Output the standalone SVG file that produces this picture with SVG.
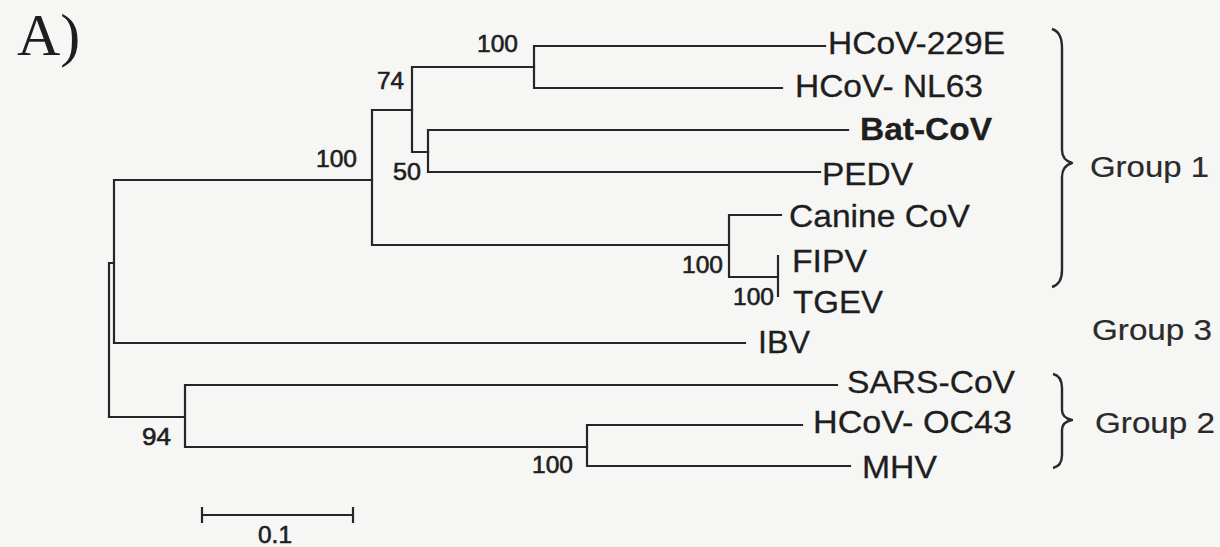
<svg xmlns="http://www.w3.org/2000/svg" width="1220" height="547" viewBox="0 0 1220 547">
<style>
.br{fill:none;stroke:#262626;stroke-width:2.2;stroke-linecap:square}
.tip{font-family:"Liberation Sans",Arial,sans-serif;font-size:32px;fill:#1e1e1e;stroke:#1e1e1e;stroke-width:0.3}
.grp{font-family:"Liberation Sans",Arial,sans-serif;font-size:30px;fill:#2a2a2a;stroke:#2a2a2a;stroke-width:0.2}
.bs{font-family:"Liberation Sans",Arial,sans-serif;font-size:24px;fill:#1e1e1e;stroke:#1e1e1e;stroke-width:0.6}
.brace{fill:none;stroke:#2a2a2a;stroke-width:2.4;stroke-linejoin:round}
</style>
<rect width="1220" height="547" fill="#f6f6f5"/>
<text x="17" y="55" font-family="'Liberation Serif','Times New Roman',serif" font-size="60" fill="#1e1e1e">A)</text>
<g id="connectors">
<path class="br" d="M109 263 V417 M109 263 H114 M114 180 V343 M114 180 H372 M114 343 H745"/>
<path class="br" d="M372 110 V245 M372 110 H412 M372 245 H729"/>
<path class="br" d="M412 67 V152 M412 67 H534 M412 152 H428"/>
<path class="br" d="M534 46 V88 M534 46 H825 M534 88 H782"/>
<path class="br" d="M428 130 V172 M428 130 H848 M428 172 H820"/>
<path class="br" d="M729 215 V277 M729 215 H781 M729 277 H778 M778 256 V296"/>
<path class="br" d="M109 417 H185 M185 385 V447 M185 385 H837 M185 447 H587"/>
<path class="br" d="M587 425 V466 M587 425 H802 M587 466 H850"/>
</g>
<g id="bootstrap">
<text class="bs" x="477" y="52" textLength="41" lengthAdjust="spacingAndGlyphs">100</text>
<text class="bs" x="377" y="89" textLength="27" lengthAdjust="spacingAndGlyphs">74</text>
<text class="bs" x="316" y="167" textLength="41" lengthAdjust="spacingAndGlyphs">100</text>
<text class="bs" x="393" y="180" textLength="28" lengthAdjust="spacingAndGlyphs">50</text>
<text class="bs" x="682" y="273" textLength="41" lengthAdjust="spacingAndGlyphs">100</text>
<text class="bs" x="733" y="305" textLength="41" lengthAdjust="spacingAndGlyphs">100</text>
<text class="bs" x="142" y="445" textLength="29" lengthAdjust="spacingAndGlyphs">94</text>
<text class="bs" x="532" y="473" textLength="41" lengthAdjust="spacingAndGlyphs">100</text>
</g>
<g id="HCoV-229E"><text class="tip" x="828" y="54" textLength="177" lengthAdjust="spacingAndGlyphs">HCoV-229E</text></g>
<g id="HCoV-NL63"><text class="tip" x="795" y="97" textLength="188" lengthAdjust="spacingAndGlyphs">HCoV- NL63</text></g>
<g id="Bat-CoV"><text class="tip" x="860" y="140" font-weight="bold" textLength="132" lengthAdjust="spacingAndGlyphs">Bat-CoV</text></g>
<g id="PEDV"><text class="tip" x="822" y="185" textLength="91" lengthAdjust="spacingAndGlyphs">PEDV</text></g>
<g id="Canine-CoV"><text class="tip" x="789" y="227" textLength="181" lengthAdjust="spacingAndGlyphs">Canine CoV</text></g>
<g id="FIPV"><text class="tip" x="792" y="272" textLength="75" lengthAdjust="spacingAndGlyphs">FIPV</text></g>
<g id="TGEV"><text class="tip" x="793" y="313" textLength="90" lengthAdjust="spacingAndGlyphs">TGEV</text></g>
<g id="IBV"><text class="tip" x="758" y="353" textLength="52" lengthAdjust="spacingAndGlyphs">IBV</text></g>
<g id="SARS-CoV"><text class="tip" x="847" y="393" textLength="168" lengthAdjust="spacingAndGlyphs">SARS-CoV</text></g>
<g id="HCoV-OC43"><text class="tip" x="813" y="433" textLength="199" lengthAdjust="spacingAndGlyphs">HCoV- OC43</text></g>
<g id="MHV"><text class="tip" x="862" y="478" textLength="75" lengthAdjust="spacingAndGlyphs">MHV</text></g>
<g id="group1">
<path class="brace" d="M1052 29 Q1062 32 1062 48 V150 Q1062 160 1072 163 Q1062 166 1062 177 V270 Q1062 284 1052 287"/>
<text class="grp" x="1090" y="177" textLength="119" lengthAdjust="spacingAndGlyphs">Group 1</text>
</g>
<g id="group3"><text class="grp" x="1092" y="340" textLength="120" lengthAdjust="spacingAndGlyphs">Group 3</text></g>
<g id="group2">
<path class="brace" d="M1053 374 Q1062 376 1062 388 V410 Q1062 418 1072 420 Q1062 422 1062 430 V455 Q1062 466 1053 468"/>
<text class="grp" x="1095" y="433" textLength="120" lengthAdjust="spacingAndGlyphs">Group 2</text>
</g>
<g id="scale">
<path class="br" d="M202 515 H353 M202 508 V522 M353 508 V522"/>
<text class="bs" x="258" y="543" textLength="34" lengthAdjust="spacingAndGlyphs">0.1</text>
</g>
</svg>
